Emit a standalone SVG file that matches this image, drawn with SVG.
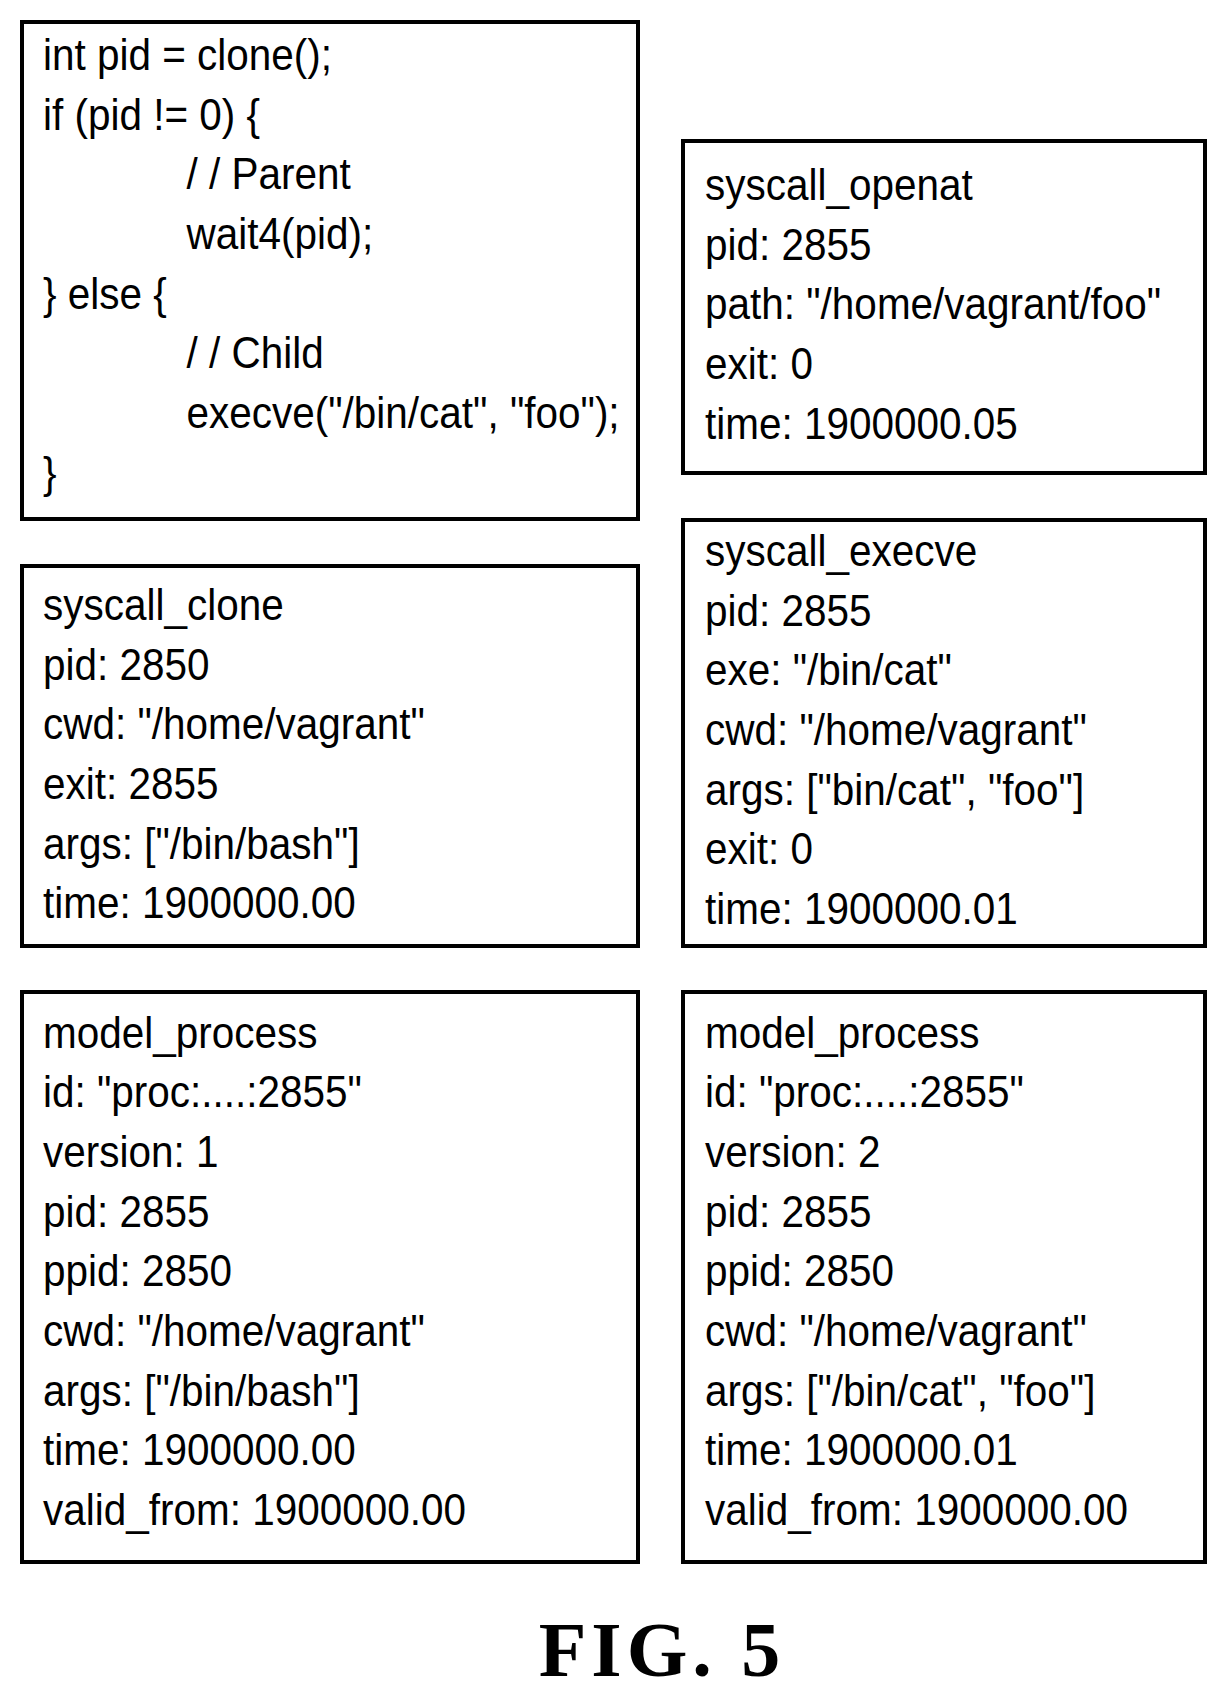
<svg xmlns="http://www.w3.org/2000/svg" width="1226" height="1697" viewBox="0 0 1226 1697">
<style>
rect{fill:#fff;stroke:#000;stroke-width:4}
text{font-family:"Liberation Sans",Arial,sans-serif;font-size:44px;fill:#000}
.fig{font-family:"Liberation Serif","Times New Roman",serif;font-size:78px;font-weight:bold;text-anchor:middle;letter-spacing:5px}
</style>
<rect width="1226" height="1697" style="stroke:none"/>
<g id="code"><rect x="22" y="22" width="616" height="497"/>
<g transform="translate(43,-4) scale(0.92,1)">
<text y="74">int pid = clone();</text>
<text y="134">if (pid != 0) {</text>
<text x="156" y="193">/ / Parent</text>
<text x="156" y="253">wait4(pid);</text>
<text y="313">} else {</text>
<text x="156" y="372">/ / Child</text>
<text x="156" y="432">execve("/bin/cat", "foo");</text>
<text y="492">}</text></g></g>
<g id="openat"><rect x="683" y="141" width="522" height="332"/>
<g transform="translate(705,-4) scale(0.92,1)">
<text y="204">syscall_openat</text><text y="264">pid: 2855</text><text y="323">path: "/home/vagrant/foo"</text><text y="383">exit: 0</text><text y="443">time: 1900000.05</text></g></g>
<g id="clone"><rect x="22" y="566" width="616" height="380"/>
<g transform="translate(43,-4) scale(0.92,1)">
<text y="624">syscall_clone</text><text y="684">pid: 2850</text><text y="743">cwd: "/home/vagrant"</text><text y="803">exit: 2855</text><text y="863">args: ["/bin/bash"]</text><text y="922">time: 1900000.00</text></g></g>
<g id="execve"><rect x="683" y="520" width="522" height="426"/>
<g transform="translate(705,-4) scale(0.92,1)">
<text y="570">syscall_execve</text><text y="630">pid: 2855</text><text y="689">exe: "/bin/cat"</text><text y="749">cwd: "/home/vagrant"</text><text y="809">args: ["bin/cat", "foo"]</text><text y="868">exit: 0</text><text y="928">time: 1900000.01</text></g></g>
<g id="model1"><rect x="22" y="992" width="616" height="570"/>
<g transform="translate(43,-4) scale(0.92,1)">
<text y="1052">model_process</text><text y="1111">id: "proc:....:2855"</text><text y="1171">version: 1</text><text y="1231">pid: 2855</text><text y="1290">ppid: 2850</text><text y="1350">cwd: "/home/vagrant"</text><text y="1410">args: ["/bin/bash"]</text><text y="1469">time: 1900000.00</text><text y="1529">valid_from: 1900000.00</text></g></g>
<g id="model2"><rect x="683" y="992" width="522" height="570"/>
<g transform="translate(705,-4) scale(0.92,1)">
<text y="1052">model_process</text><text y="1111">id: "proc:....:2855"</text><text y="1171">version: 2</text><text y="1231">pid: 2855</text><text y="1290">ppid: 2850</text><text y="1350">cwd: "/home/vagrant"</text><text y="1410">args: ["/bin/cat", "foo"]</text><text y="1469">time: 1900000.01</text><text y="1529">valid_from: 1900000.00</text></g></g>
<g id="connectors"/>
<text class="fig" x="662" y="1676">FIG. 5</text>
</svg>
